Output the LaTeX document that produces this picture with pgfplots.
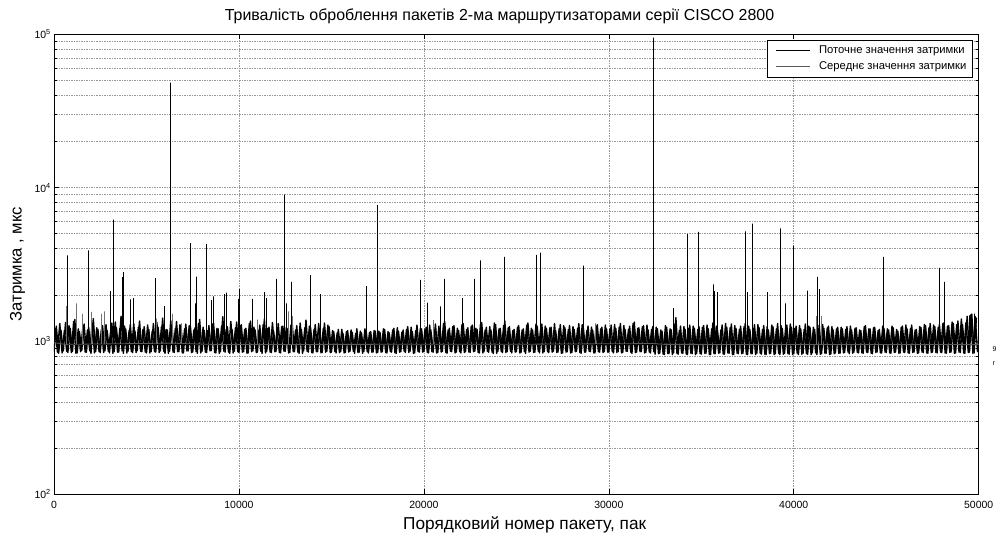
\documentclass[border=0pt]{standalone}
\usepackage{fontspec}
\setmainfont{Liberation Sans}
\usepackage{pgfplots}
\usepackage{pgfplotstable}
\pgfplotsset{compat=1.18}

% current delay, packets 0,125,250,... (band around 10^3)
\pgfplotstableread[row sep=\\]{
y\\
850\\1250\\830\\1180\\860\\1320\\840\\1210\\855\\1380\\835\\1150\\865\\1290\\845\\1230\\830\\1400\\850\\1190\\
840\\1260\\860\\1170\\835\\1310\\850\\1220\\845\\1450\\830\\1200\\855\\1280\\840\\1160\\865\\1350\\850\\1240\\
835\\1190\\850\\1300\\845\\1230\\860\\1410\\830\\1180\\855\\1270\\840\\1340\\850\\1210\\835\\1290\\860\\1250\\
845\\1220\\830\\1380\\855\\1170\\840\\1260\\865\\1310\\835\\1200\\850\\1440\\845\\1240\\830\\1190\\855\\1330\\
840\\1280\\850\\1210\\835\\1350\\860\\1180\\845\\1270\\830\\1390\\855\\1230\\840\\1160\\850\\1300\\835\\1250\\
855\\1200\\840\\1320\\850\\1260\\830\\1190\\860\\1370\\845\\1220\\835\\1280\\850\\1170\\840\\1310\\855\\1240\\
845\\1150\\835\\1190\\850\\1120\\840\\1170\\855\\1140\\830\\1200\\845\\1130\\850\\1180\\835\\1150\\845\\1160\\
840\\1140\\850\\1190\\835\\1130\\845\\1210\\830\\1160\\850\\1180\\840\\1240\\855\\1150\\835\\1270\\845\\1200\\
850\\1230\\835\\1180\\845\\1290\\840\\1200\\855\\1340\\830\\1210\\850\\1260\\845\\1170\\835\\1300\\850\\1220\\
840\\1270\\855\\1190\\835\\1320\\850\\1230\\845\\1180\\830\\1280\\855\\1210\\840\\1350\\850\\1240\\835\\1190\\
850\\1260\\840\\1200\\830\\1310\\855\\1180\\845\\1250\\835\\1290\\850\\1210\\840\\1230\\855\\1170\\845\\1280\\
835\\1220\\850\\1260\\840\\1190\\855\\1300\\830\\1210\\845\\1250\\850\\1180\\835\\1280\\845\\1230\\850\\1200\\
845\\1270\\835\\1210\\850\\1300\\840\\1190\\855\\1250\\830\\1330\\845\\1220\\850\\1260\\840\\1180\\835\\1240\\
820\\1200\\830\\1160\\815\\1230\\825\\1180\\835\\1420\\820\\1250\\830\\1190\\815\\1270\\825\\1210\\830\\1240\\
820\\1260\\830\\1200\\815\\1310\\825\\1180\\835\\1270\\820\\1230\\830\\1290\\815\\1210\\825\\1250\\830\\1300\\
815\\1190\\825\\1280\\830\\1220\\820\\1260\\815\\1180\\830\\1240\\825\\1300\\815\\1210\\830\\1270\\820\\1230\\
825\\1250\\815\\1200\\830\\1290\\820\\1230\\835\\1190\\815\\1270\\825\\1210\\830\\1250\\820\\1180\\835\\1230\\
830\\1200\\840\\1240\\825\\1180\\845\\1220\\835\\1170\\830\\1260\\840\\1200\\825\\1230\\845\\1190\\835\\1210\\
840\\1180\\830\\1220\\845\\1160\\835\\1250\\840\\1200\\830\\1270\\845\\1190\\835\\1230\\840\\1260\\830\\1300\\
845\\1240\\835\\1280\\840\\1320\\830\\1260\\845\\1300\\835\\1350\\840\\1280\\830\\1450\\845\\1500\\835\\1420\\
}\noisea

% current delay, packets 62.5,187.5,... (in between)
\pgfplotstableread[row sep=\\]{
y\\
1210\\845\\1300\\835\\1170\\855\\1260\\840\\1340\\830\\1200\\850\\1240\\845\\1180\\860\\1310\\835\\1220\\850\\
1190\\840\\1280\\855\\1150\\830\\1330\\845\\1210\\860\\1250\\835\\1170\\850\\1300\\840\\1230\\855\\1190\\845\\
1270\\835\\1160\\850\\1320\\840\\1240\\855\\1190\\830\\1360\\845\\1210\\850\\1280\\835\\1200\\860\\1260\\840\\
1180\\850\\1300\\835\\1230\\845\\1170\\860\\1290\\840\\1210\\830\\1250\\855\\1190\\845\\1340\\835\\1220\\850\\
1260\\845\\1190\\830\\1300\\850\\1230\\840\\1170\\855\\1280\\835\\1210\\845\\1320\\850\\1180\\840\\1240\\855\\
1230\\835\\1270\\850\\1180\\845\\1310\\830\\1220\\855\\1250\\840\\1190\\850\\1300\\835\\1210\\845\\1270\\840\\
1170\\850\\1130\\840\\1190\\835\\1150\\845\\1180\\855\\1120\\840\\1160\\830\\1200\\850\\1140\\845\\1170\\835\\
1160\\845\\1200\\840\\1150\\850\\1180\\835\\1220\\845\\1140\\855\\1190\\840\\1230\\830\\1170\\850\\1210\\845\\
1200\\840\\1270\\850\\1190\\835\\1250\\845\\1300\\840\\1180\\855\\1240\\835\\1210\\850\\1280\\840\\1190\\845\\
1250\\850\\1210\\840\\1290\\835\\1180\\855\\1240\\845\\1310\\830\\1200\\850\\1260\\840\\1220\\855\\1170\\845\\
1230\\835\\1180\\850\\1270\\845\\1210\\840\\1290\\855\\1190\\835\\1250\\850\\1220\\845\\1300\\840\\1200\\830\\
1260\\845\\1190\\835\\1240\\850\\1210\\840\\1280\\845\\1170\\855\\1230\\835\\1250\\850\\1200\\840\\1270\\845\\
1200\\850\\1280\\840\\1230\\835\\1260\\855\\1190\\845\\1300\\840\\1210\\850\\1240\\835\\1270\\845\\1190\\850\\
1230\\825\\1180\\820\\1260\\830\\1200\\815\\1290\\825\\1170\\835\\1240\\820\\1210\\830\\1250\\815\\1190\\825\\
1230\\830\\1270\\815\\1200\\825\\1250\\830\\1180\\820\\1300\\835\\1220\\815\\1260\\830\\1190\\825\\1240\\820\\
1250\\825\\1210\\815\\1280\\830\\1190\\820\\1240\\825\\1270\\815\\1200\\830\\1260\\820\\1220\\825\\1290\\815\\
1210\\830\\1260\\820\\1190\\825\\1250\\815\\1230\\835\\1200\\820\\1280\\830\\1220\\815\\1240\\825\\1200\\830\\
1230\\835\\1190\\845\\1250\\830\\1210\\840\\1180\\835\\1240\\845\\1200\\830\\1220\\840\\1170\\835\\1250\\845\\
1200\\835\\1250\\840\\1190\\830\\1230\\845\\1270\\835\\1210\\840\\1180\\830\\1240\\845\\1280\\835\\1220\\840\\
1270\\840\\1230\\845\\1300\\835\\1250\\840\\1330\\830\\1280\\845\\1390\\835\\1320\\840\\1480\\830\\1440\\845\\
}\noiseb

\begin{document}
\begin{tikzpicture}
\begin{axis}[
  name=ax,
  scale only axis,
  width=924.7bp, height=460bp,
  ymode=log, log basis y=10,
  xmin=0, xmax=50000, ymin=100, ymax=100000,
  scaled x ticks=false,
  xtick={0,10000,20000,30000,40000,50000},
  xticklabels={0,10000,20000,30000,40000,50000},
  ytick={100,1000,10000,100000},
  yticklabels={10\textsuperscript{2},10\textsuperscript{3},10\textsuperscript{4},10\textsuperscript{5}},
  minor ytick={200,300,400,500,600,700,800,900,2000,3000,4000,5000,6000,7000,8000,9000,20000,30000,40000,50000,60000,70000,80000,90000},
  grid=both,
  major grid style={black!40, dash pattern=on 1.5bp off 1bp, line width=0.6bp},
  minor grid style={black!40, dash pattern=on 1.5bp off 1bp, line width=0.6bp},
  tick align=inside,
  major tick length=5bp, minor tick length=3bp,
  tick style={black, line width=0.6bp},
  axis line style={line width=0.8bp},
  ticklabel style={font=\fontsize{10.5}{12}\selectfont},
  xticklabel style={yshift=-3bp},
  yticklabel style={inner sep=1bp, xshift=-2bp},
  title={Тривалість оброблення пакетів 2-ма маршрутизаторами серії CISCO 2800},
  title style={font=\fontsize{16}{18}\selectfont, at={(axis description cs:0.4818,1.017)}, anchor=base},
  xlabel={Порядковий номер пакету, пак},
  xlabel style={font=\fontsize{17.3}{19}\selectfont, at={(axis description cs:0.509,-0.0761)}, anchor=base},
  ylabel={Затримка , мкс},
  ylabel style={font=\fontsize{16.7}{18}\selectfont, at={(axis description cs:-0.0395,0.5)}, anchor=center},
  legend style={at={(axis description cs:1,1)}, anchor=north east, xshift=-6bp, yshift=-5.5bp,
    draw=black, line width=0.6bp, fill=white, font=\fontsize{11.3}{13}\selectfont,
    inner xsep=4bp, inner ysep=4bp, row sep=2.5bp},
  legend cell align=left,
  legend image code/.code={\path (-4bp,0bp); \draw[#1] (0bp,0bp) -- (34bp,0bp); \path (40bp,0bp);},
]
\addplot[black, line width=1.4bp, line join=round] table[x expr=\coordindex*125, y=y] {\noisea};
\addlegendentry{Поточне значення затримки}
\addplot[black, line width=1.4bp, line join=round, forget plot] table[x expr=\coordindex*125+62.5, y=y] {\noiseb};

% small grey spikes
\addplot[black!55, line width=0.6bp, forget plot] coordinates {
(640,950)(640,1690)(640,950) (1200,950)(1200,1760)(1200,950)
(1530,950)(1530,1500)(1530,950) (1990,950)(1990,1550)(1990,950)
(2550,950)(2550,1500)(2550,950) (2730,950)(2730,1560)(2730,950)
(5540,950)(5540,1400)(5540,950) (6370,950)(6370,1500)(6370,950)
(6900,950)(6900,1300)(6900,950) (11000,950)(11000,1380)(11000,950)
(12650,950)(12650,1560)(12650,950) (12900,950)(12900,1450)(12900,950)
(20500,950)(20500,1370)(20500,950) (29280,950)(29280,1300)(29280,950)
(41200,950)(41200,1450)(41200,950) (41500,950)(41500,1450)(41500,950)
};

% large spikes
\addplot[black, line width=0.8bp, forget plot] coordinates {
(730,950)(730,3620)(730,950) (1870,950)(1870,3900)(1870,950)
(3050,950)(3050,2110)(3050,950) (3200,950)(3200,6180)(3200,950)
(3690,950)(3690,2610)(3690,950) (3760,950)(3760,2810)(3760,950)
(4130,950)(4130,1870)(4130,950) (4310,950)(4310,1900)(4310,950)
(5470,950)(5470,2570)(5470,950) (5970,950)(5970,1690)(5970,950)
(6300,950)(6300,48400)(6300,950) (7350,950)(7350,4350)(7350,950)
(7660,950)(7660,1760)(7660,950) (7710,950)(7710,2630)(7710,950)
(8220,950)(8220,4290)(8220,950) (8520,950)(8520,1850)(8520,950)
(8610,950)(8610,1950)(8610,950) (9240,950)(9240,2020)(9240,950)
(9330,950)(9330,2070)(9330,950) (9950,950)(9950,1880)(9950,950)
(10020,950)(10020,2180)(10020,950) (10730,950)(10730,1880)(10730,950)
(11350,950)(11350,2080)(11350,950) (11460,950)(11460,1900)(11460,950)
(12000,950)(12000,2540)(12000,950) (12480,950)(12480,9000)(12480,950)
(12580,950)(12580,1760)(12580,950) (12820,950)(12820,2430)(12820,950)
(13850,950)(13850,2690)(13850,950) (14400,950)(14400,2020)(14400,950)
(16890,950)(16890,2280)(16890,950) (17460,950)(17460,7680)(17460,950)
(19820,950)(19820,2500)(19820,950) (20200,950)(20200,1780)(20200,950)
(20900,950)(20900,1680)(20900,950) (21100,950)(21100,2540)(21100,950)
(22100,950)(22100,1900)(22100,950) (22720,950)(22720,2540)(22720,950)
(23080,950)(23080,3350)(23080,950) (24360,950)(24360,3530)(24360,950)
(26080,950)(26080,3650)(26080,950) (26280,950)(26280,3770)(26280,950)
(28630,950)(28630,3100)(28630,950) (32400,950)(32400,95000)(32400,950)
(33490,950)(33490,1640)(33490,950) (34230,950)(34230,5000)(34230,950)
(34840,950)(34840,5150)(34840,950) (35650,950)(35650,2340)(35650,950)
(35720,950)(35720,2110)(35720,950) (35880,950)(35880,2080)(35880,950)
(37400,950)(37400,5180)(37400,950) (37500,950)(37500,2080)(37500,950)
(37790,950)(37790,5830)(37790,950) (38600,950)(38600,2080)(38600,950)
(39270,950)(39270,5430)(39270,950) (39570,950)(39570,1760)(39570,950)
(40000,950)(40000,4190)(40000,950) (40730,950)(40730,2130)(40730,950)
(41280,950)(41280,2620)(41280,950) (41370,950)(41370,2180)(41370,950)
(44860,950)(44860,3530)(44860,950) (47900,950)(47900,3000)(47900,950)
(48150,950)(48150,2430)(48150,950) (49520,950)(49520,1470)(49520,950)
(49750,950)(49750,1510)(49750,950)
};

\addplot[black!65, line width=0.8bp] coordinates {
(0,975)(600,950)(6300,968)(8700,948)(15000,950)(25000,952)(32400,962)(33000,950)(50000,948)
};
\addlegendentry{Середнє значення затримки}
\end{axis}
\node[anchor=west, font=\fontsize{7}{8}\selectfont, inner sep=0pt] at ([xshift=938.5bp, yshift=145bp]ax.south west) {9};
\node[anchor=west, font=\fontsize{7}{8}\selectfont, inner sep=0pt] at ([xshift=938.5bp, yshift=131bp]ax.south west) {r};
\pgfresetboundingbox
\path[use as bounding box] ([xshift=-54bp, yshift=-41.7bp]ax.south west) rectangle ([xshift=17.3bp, yshift=34.3bp]ax.north east);
\end{tikzpicture}
\end{document}
